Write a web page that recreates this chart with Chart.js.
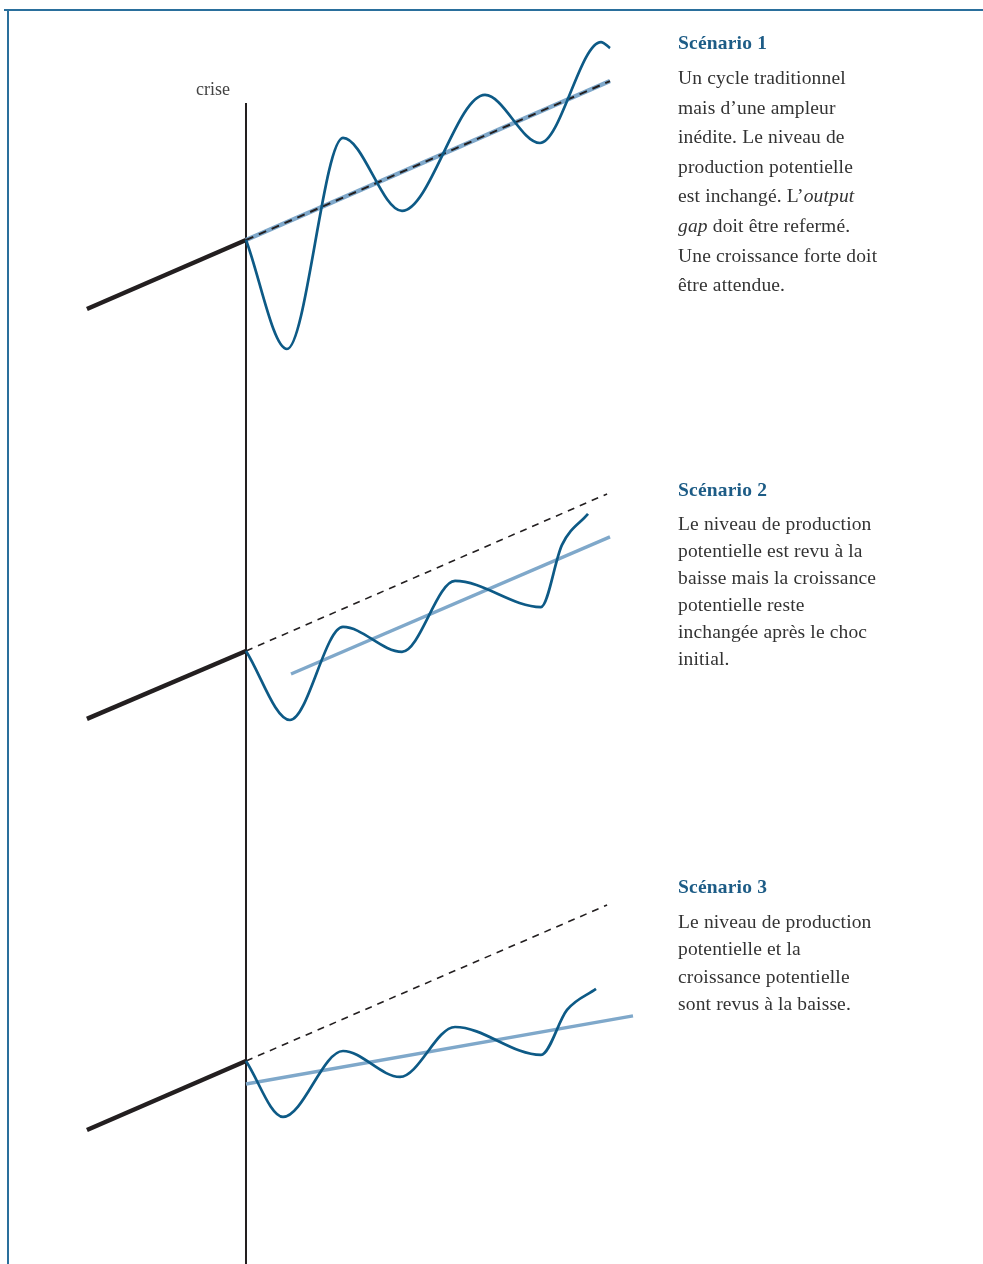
<!DOCTYPE html>
<html lang="fr">
<head>
<meta charset="utf-8">
<script src="https://cdn.jsdelivr.net/npm/chart.js@4.4.1/dist/chart.umd.min.js"></script>
<style>
  html, body { margin: 0; padding: 0; background: #ffffff; }
  #wrap { position: relative; width: 983px; height: 1264px; overflow: hidden; background: #fff; }
  #c { position: absolute; left: 0; top: 0; }
  .frameTop { position: absolute; left: 4px; top: 9px; width: 979px; height: 2px; background: #2a6f9c; }
  .frameLeft { position: absolute; left: 7px; top: 9px; width: 2px; height: 1255px; background: #2a6f9c; }
  .txt { position: absolute; font-family: "Liberation Serif", "DejaVu Serif", serif; color: #333333; font-size: 19.5px; letter-spacing: 0.15px; white-space: nowrap; }
  .ttl { font-weight: bold; color: #1d5c86; line-height: 22px; font-size: 19.5px; letter-spacing: 0.2px; }
  .crise { position: absolute; left: 196px; top: 79px; font-family: "Liberation Serif", serif; font-size: 18px; color: #444; line-height: 20px; }
</style>
</head>
<body>
<div id="wrap">
  <canvas id="c" width="983" height="1264"></canvas>
  <div class="frameTop"></div>
  <div class="frameLeft"></div>
  <div class="crise">crise</div>

  <div class="txt ttl" style="left:678px; top:32px;">Scénario 1</div>
  <div class="txt" style="left:678px; top:63px; line-height:29.6px;">Un cycle traditionnel<br>mais d’une ampleur<br>inédite. Le niveau de<br>production potentielle<br>est inchangé. L’<i>output</i><br><i>gap</i> doit être refermé.<br>Une croissance forte doit<br>être attendue.</div>

  <div class="txt ttl" style="left:678px; top:479px;">Scénario 2</div>
  <div class="txt" style="left:678px; top:510px; line-height:27px;">Le niveau de production<br>potentielle est revu à la<br>baisse mais la croissance<br>potentielle reste<br>inchangée après le choc<br>initial.</div>

  <div class="txt ttl" style="left:678px; top:876px;">Scénario 3</div>
  <div class="txt" style="left:678px; top:908px; line-height:27.3px;">Le niveau de production<br>potentielle et la<br>croissance potentielle<br>sont revus à la baisse.</div>
</div>

<script>
// ---- Data (abstract units: t = time, 0 = crisis; level = output, 100 at crisis) ----
// Crisis marker
const crisisT = [0, 0];
const crisisLevel = [186.7, -548.1];

// Scenario 1
const s1PreT = [-4.37, 0];
const s1PreLevel = [56.3, 100];
const s1TrendT = [0, 10];
const s1TrendLevel = [100, 200.6];
const s1WaveT = [0, 1.126, 2.665, 4.286, 6.566, 8.077, 9.753, 10.0];
const s1WaveLevel = [100, 31.0, 164.6, 118.4, 191.8, 161.4, 225.3, 221.5];

// Scenario 2
const s2PreT = [-4.37, 0];
const s2PreLevel = [57.0, 100];
const s2OldTrendT = [0, 9.92];
const s2OldTrendLevel = [100, 199.4];
const s2NewTrendT = [1.236, 10];
const s2NewTrendLevel = [85.4, 172.2];
const s2WaveT = [0, 1.209, 2.665, 4.286, 5.742, 8.104, 8.681, 9.396];
const s2WaveLevel = [100, 56.3, 115.2, 99.4, 144.3, 127.8, 167.1, 186.7];

// Scenario 3
const s3PreT = [-4.37, 0];
const s3PreLevel = [56.3, 100];
const s3OldTrendT = [0, 9.92];
const s3OldTrendLevel = [100, 198.7];
const s3NewTrendT = [0, 10.632];
const s3NewTrendLevel = [85.4, 128.5];
const s3WaveT = [0, 1.016, 2.665, 4.231, 5.742, 8.104, 8.819, 9.615];
const s3WaveLevel = [100, 64.6, 106.3, 89.9, 121.5, 103.8, 132.3, 145.6];

// ---- Styles ----
const BLACK = '#231f20';
const WAVE = '#0d5a86';
const LIGHT = '#7fa8ca';

function pts(xs, ys) { return xs.map((x, i) => ({ x: x, y: ys[i] })); }
function line(data, axis, color, width, extra) {
  return Object.assign({
    data: data, yAxisID: axis, showLine: true, borderColor: color, backgroundColor: color,
    borderWidth: width, pointRadius: 0, pointHoverRadius: 0, fill: false, tension: 0,
    borderCapStyle: 'butt'
  }, extra || {});
}

const datasets = [
  // waves on top
  line(pts(s1WaveT, s1WaveLevel), 'y1', WAVE, 2.7, { cubicInterpolationMode: 'monotone', order: 0 }),
  line(pts(s2WaveT, s2WaveLevel), 'y2', WAVE, 2.7, { cubicInterpolationMode: 'monotone', order: 0 }),
  line(pts(s3WaveT, s3WaveLevel), 'y3', WAVE, 2.7, { cubicInterpolationMode: 'monotone', order: 0 }),
  // dashed old trends
  line(pts(s1TrendT, s1TrendLevel), 'y1', BLACK, 2, { borderDash: [8, 6], order: 1 }),
  line(pts(s2OldTrendT, s2OldTrendLevel), 'y2', BLACK, 1.6, { borderDash: [7, 6], order: 1 }),
  line(pts(s3OldTrendT, s3OldTrendLevel), 'y3', BLACK, 1.6, { borderDash: [7, 6], order: 1 }),
  // light blue potential
  line(pts(s1TrendT, s1TrendLevel), 'y1', LIGHT, 4.5, { order: 2 }),
  line(pts(s2NewTrendT, s2NewTrendLevel), 'y2', LIGHT, 3.4, { order: 2 }),
  line(pts(s3NewTrendT, s3NewTrendLevel), 'y3', LIGHT, 3.4, { order: 2 }),
  // pre-crisis thick black
  line(pts(s1PreT, s1PreLevel), 'y1', BLACK, 4.5, { order: 3 }),
  line(pts(s2PreT, s2PreLevel), 'y2', BLACK, 4.5, { order: 3 }),
  line(pts(s3PreT, s3PreLevel), 'y3', BLACK, 4.5, { order: 3 }),
  // crisis vertical line
  line(pts(crisisT, crisisLevel), 'y1', BLACK, 2, { order: 4 })
];

const hidden = { display: false, grid: { display: false }, ticks: { display: false } };

new Chart(document.getElementById('c'), {
  type: 'scatter',
  data: { datasets: datasets },
  options: {
    responsive: false,
    animation: false,
    devicePixelRatio: 1,
    layout: { padding: 0 },
    plugins: { legend: { display: false }, tooltip: { enabled: false }, title: { display: false } },
    events: [],
    scales: {
      x: Object.assign({ type: 'linear', min: -6.758, max: 20.247 }, hidden),
      y1: Object.assign({ type: 'linear', min: -548.1, max: 251.9 }, hidden),
      y2: Object.assign({ type: 'linear', min: -288.0, max: 512.0 }, hidden),
      y3: Object.assign({ type: 'linear', min: -28.5, max: 771.5 }, hidden)
    }
  }
});
</script>
</body>
</html>
